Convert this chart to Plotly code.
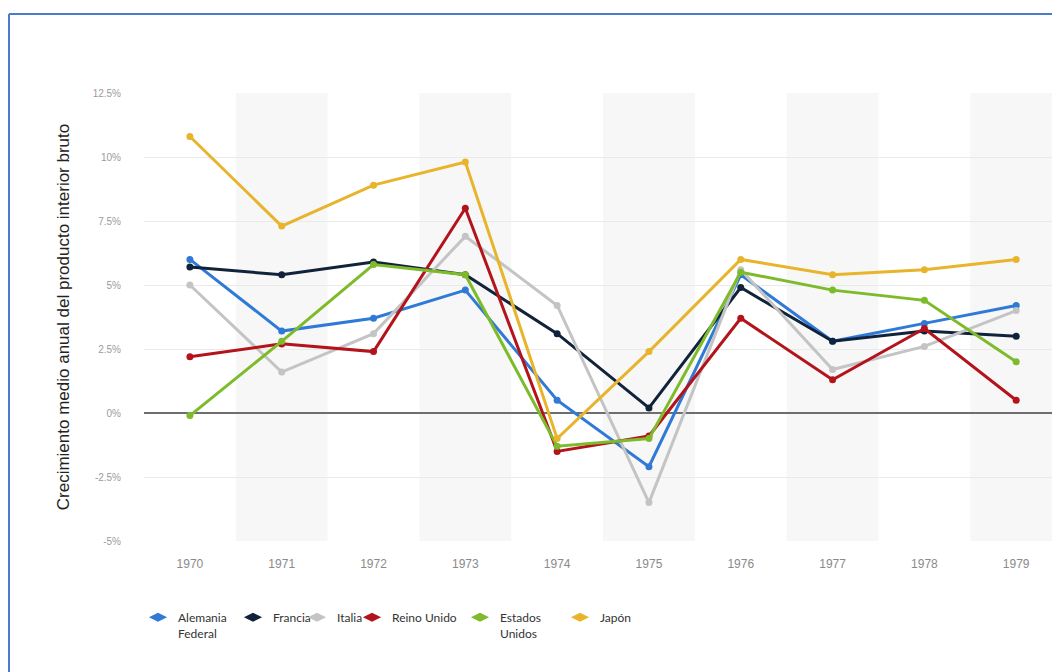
import plotly.graph_objects as go

# Annual GDP growth (%) by country, 1970-1979
years = ["1970", "1971", "1972", "1973", "1974", "1975", "1976", "1977", "1978", "1979"]
alemania_federal = [6.0, 3.2, 3.7, 4.8, 0.5, -2.1, 5.4, 2.8, 3.5, 4.2]
francia = [5.7, 5.4, 5.9, 5.4, 3.1, 0.2, 4.9, 2.8, 3.2, 3.0]
italia = [5.0, 1.6, 3.1, 6.9, 4.2, -3.5, 5.6, 1.7, 2.6, 4.0]
reino_unido = [2.2, 2.7, 2.4, 8.0, -1.5, -0.9, 3.7, 1.3, 3.3, 0.5]
estados_unidos = [-0.1, 2.8, 5.8, 5.4, -1.3, -1.0, 5.5, 4.8, 4.4, 2.0]
japon = [10.8, 7.3, 8.9, 9.8, -1.0, 2.4, 6.0, 5.4, 5.6, 6.0]

y_ticks = [12.5, 10, 7.5, 5, 2.5, 0, -2.5, -5]
y_tick_text = ["12.5%", "10%", "7.5%", "5%", "2.5%", "0%", "-2.5%", "-5%"]

series = [
    ("Alemania<br>Federal", alemania_federal, "#2f7ad6"),
    ("Francia", francia, "#10233a"),
    ("Italia", italia, "#c4c4c4"),
    ("Reino Unido", reino_unido, "#b3141c"),
    ("Estados<br>Unidos", estados_unidos, "#7dbb2a"),
    ("Japón", japon, "#e8b42c"),
]

# legend text start positions (px from left of the page)
legend_text_px = [180, 275, 339, 394, 502, 602]

W, H = 1052, 672
M_L, M_R, M_T, M_B = 144, 0, 93, 131
plot_w = W - M_L - M_R
plot_h = H - M_T - M_B


def px_to_paper_x(px):
    return (px - M_L) / plot_w


def px_to_paper_y(py):
    return (H - M_B - py) / plot_h


fig = go.Figure()

legend_layouts = {}
for i, (name, vals, color) in enumerate(series):
    lg = "legend" if i == 0 else f"legend{i + 1}"
    # data line
    fig.add_trace(go.Scatter(
        x=years, y=vals, name=name, mode="lines+markers",
        line=dict(color=color, width=3),
        marker=dict(color=color, size=7),
        showlegend=False, legendgroup=name,
    ))
    # compact legend key for the same series
    fig.add_trace(go.Scatter(
        x=[None], y=[None], name=name, mode="markers",
        marker=dict(color=color, size=13, symbol="diamond-wide"),
        legend=lg, legendgroup=name, hoverinfo="skip",
    ))
    legend_layouts[lg] = dict(
        x=px_to_paper_x(legend_text_px[i] - 42), xanchor="left",
        y=px_to_paper_y(603), yanchor="top",
        bgcolor="rgba(0,0,0,0)",
        font=dict(family="Lato, Open Sans, sans-serif", size=12, color="#333333"),
        itemwidth=30,
        tracegroupgap=0,
        valign="top",
    )

# alternating background bands behind every other year
shapes = []
for i in range(1, len(years), 2):
    shapes.append(dict(
        type="rect", xref="x", yref="paper", layer="below",
        x0=i - 0.5, x1=i + 0.5, y0=0, y1=1,
        fillcolor="#f7f7f7", line=dict(width=0),
    ))

# frame lines on the left and top edges of the page
fx = px_to_paper_x(9)
fy_top = px_to_paper_y(14)
fy_bot = px_to_paper_y(H)
shapes.append(dict(type="line", xref="paper", yref="paper",
                   x0=fx, x1=px_to_paper_x(W), y0=fy_top, y1=fy_top,
                   line=dict(color="#4a7cc9", width=2)))
shapes.append(dict(type="line", xref="paper", yref="paper",
                   x0=fx, x1=fx, y0=fy_top, y1=fy_bot,
                   line=dict(color="#4a7cc9", width=2)))

fig.update_layout(
    width=W, height=H,
    margin=dict(l=M_L, r=M_R, t=M_T, b=M_B),
    paper_bgcolor="white", plot_bgcolor="white",
    shapes=shapes,
    showlegend=True,
    **legend_layouts,
)

fig.update_xaxes(
    type="category", range=[-0.5, 9.39],
    showgrid=False, zeroline=False, showline=False,
    tickfont=dict(family="Liberation Sans Narrow, Arial Narrow, sans-serif", size=12, color="#8a8a8a"),
    ticklabelstandoff=14,
)
fig.update_yaxes(
    range=[-5, 12.5],
    tickvals=y_ticks, ticktext=y_tick_text,
    showgrid=True, gridcolor="#eaeaea", gridwidth=1,
    zeroline=True, zerolinecolor="#6e6e6e", zerolinewidth=2,
    showline=False,
    tickfont=dict(family="Liberation Sans Narrow, Arial Narrow, sans-serif", size=10, color="#9a9a9a"),
    ticklabelstandoff=22,
    title=dict(
        text="Crecimiento medio anual del producto interior bruto",
        font=dict(family="Liberation Sans Narrow, Arial Narrow, sans-serif", size=17, color="#222222"),
        standoff=18,
    ),
)

fig.write_html("out.html")
